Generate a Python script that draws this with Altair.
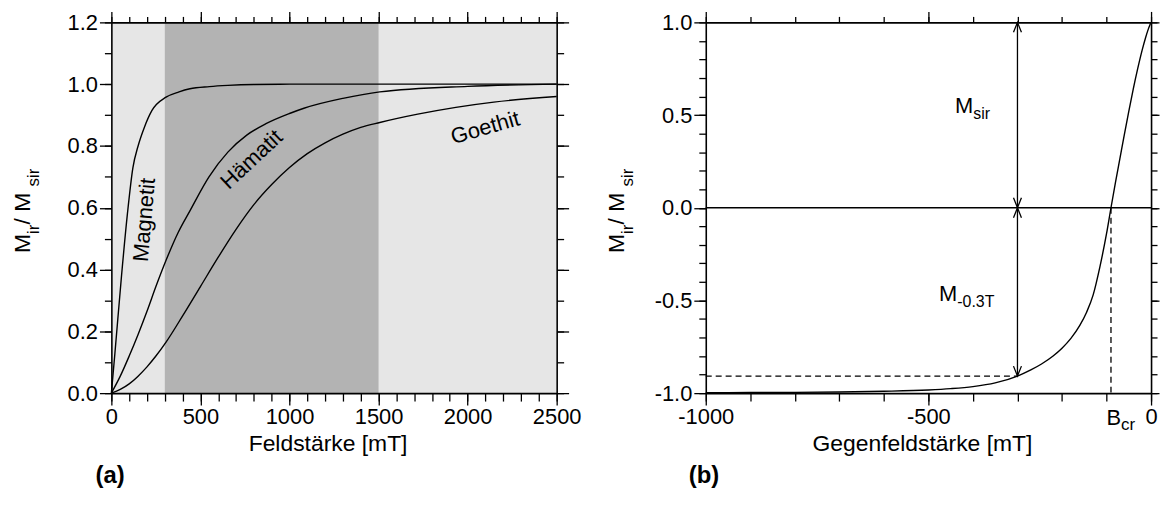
import altair as alt
import pandas as pd

FONT = "Liberation Sans"

# ---------------- panel (a) data ----------------
mag_x = [0, 20, 57, 90, 121, 150, 185, 228, 307, 380, 441, 550, 654, 800, 1000, 1500, 2000, 2500]
mag_y = [0, 0.13, 0.38, 0.58, 0.73, 0.80, 0.86, 0.915, 0.958, 0.975, 0.985, 0.992, 0.996, 0.999, 1.0, 1.0, 1.0, 1.0]
hem_x = [0, 50, 100, 150, 200, 250, 307, 375, 441, 548, 654, 760, 868, 1000, 1081, 1300, 1507, 2000, 2500]
hem_y = [0, 0.055, 0.12, 0.19, 0.265, 0.345, 0.43, 0.52, 0.59, 0.70, 0.78, 0.835, 0.872, 0.905, 0.922,
         0.954, 0.975, 0.993, 1.0]
goe_x = [0, 50, 100, 150, 200, 250, 307, 400, 500, 600, 700, 800, 900, 1000, 1100, 1200, 1300, 1400,
         1507, 1720, 1934, 2147, 2500]
goe_y = [0, 0.012, 0.03, 0.055, 0.085, 0.12, 0.165, 0.25, 0.345, 0.44, 0.53, 0.61, 0.675, 0.73, 0.775,
         0.81, 0.838, 0.86, 0.876, 0.903, 0.925, 0.942, 0.96]
curve_names = ["Magnetit", "Hämatit", "Goethit"]

shade_x0 = [0, 300]
shade_x1 = [2500, 1500]
shade_y0 = [0.0, 0.0]
shade_y1 = [1.2, 1.2]
shade_col = ["#e6e6e6", "#b3b3b3"]

lab_text = ["Magnetit", "Hämatit", "Goethit"]
lab_x = [186, 787, 2099]
lab_y = [0.561, 0.756, 0.859]
lab_ang = [275, 317, 344]

a_xmajor = [0, 500, 1000, 1500, 2000, 2500]
a_xminor = [v * 100 for v in range(26)]
a_ymajor = [0.0, 0.2, 0.4, 0.6, 0.8, 1.0, 1.2]
a_yminor = [round(v * 0.1, 1) for v in range(13)]

# ---------------- panel (b) data ----------------
b_x = [-1000, -900, -800, -700, -600, -500, -450, -400, -350, -300, -270, -246, -220, -200, -180,
       -160, -145, -130, -115, -100, -90, -80, -70, -60, -50, -40, -30, -20, -12, -6, -2, 0]
b_y = [-0.998, -0.997, -0.996, -0.994, -0.99, -0.983, -0.976, -0.965, -0.945, -0.908, -0.875, -0.843,
       -0.80, -0.758, -0.705, -0.635, -0.565, -0.47, -0.32, -0.14, 0.0, 0.135, 0.265, 0.395, 0.52,
       0.64, 0.75, 0.85, 0.92, 0.965, 0.99, 1.0]
m03_level = -0.908
bcr_x = -90
arrow_x = -300

b_xmajor = [-1000, -500, 0]
b_xminor = [-1000 + v * 100 for v in range(11)]
b_ymajor = [-1.0, -0.5, 0.0, 0.5, 1.0]
b_yminor = [round(-1.0 + v * 0.1, 1) for v in range(21)]

W, H = 448, 373
XTITLE_Y = 431
PANEL_Y = 463

# Arial / Liberation Sans advance widths (per 1000 em)
ADV = {"M": 833, "i": 222, "r": 333, " ": 278, "/": 278, "s": 500}


def tw(t, fs):
    return sum(ADV[c] for c in t) / 1000 * fs


def axis(orient, values, size, labels=False, domain=False, fmt=None, expr=None):
    kw = dict(orient=orient, values=values, tickSize=size, labels=labels, domain=domain,
              grid=False, title=None, ticks=True, tickColor="black", tickWidth=1.3,
              domainColor="black", domainWidth=1.6, zindex=3)
    if labels:
        kw.update(labelFont=FONT, labelFontSize=22, labelColor="black", labelPadding=2,
                  labelFlush=False, labelOverlap=False)
        if fmt:
            kw["format"] = fmt
        if expr:
            kw["labelExpr"] = expr
    return alt.Axis(**kw)


def ytitle_layer():
    pieces = [("M", 23, False), ("ir", 17, True), (" / M", 23, False), ("sir", 17, True)]
    rows, cum = [], 0.0
    for t, fs, sub in pieces:
        rows.append(dict(t=t, px=-82 + (9 if sub else 0), py=232 - cum, fs=fs))
        cum += tw(t, fs)
    return alt.Chart(pd.DataFrame(rows)).mark_text(
        align="left", baseline="alphabetic", angle=270, font=FONT, color="black"
    ).encode(
        text="t:N",
        x=alt.X("px:Q", scale=None, axis=None),
        y=alt.Y("py:Q", scale=None, axis=None),
        size=alt.Size("fs:Q", scale=None),
    )


def text_value(txt, px, py, fs, bold=False):
    return alt.Chart(pd.DataFrame({"t": [txt]})).mark_text(
        align="left" if bold else "center", baseline="alphabetic", font=FONT, fontSize=fs,
        fontWeight="bold" if bold else "normal", color="black"
    ).encode(text="t:N", x=alt.value(px), y=alt.value(py))


# ---------------- panel (a) ----------------
xs_a = alt.Scale(domain=[0, 2500], nice=False, zero=False)
ys_a = alt.Scale(domain=[0, 1.2], nice=False, zero=False)

shade_df = pd.DataFrame({"x0": shade_x0, "x1": shade_x1, "y0": shade_y0, "y1": shade_y1, "col": shade_col})
curves_df = pd.concat([
    pd.DataFrame({"x": mag_x, "y": mag_y, "name": curve_names[0]}),
    pd.DataFrame({"x": hem_x, "y": hem_y, "name": curve_names[1]}),
    pd.DataFrame({"x": goe_x, "y": goe_y, "name": curve_names[2]}),
])
labels_df = pd.DataFrame({"t": lab_text, "x": lab_x, "y": lab_y, "ang": lab_ang})

a_light = alt.Chart(shade_df.iloc[[0]]).mark_rect().encode(
    x=alt.X("x0:Q", scale=xs_a, axis=axis("bottom", a_xmajor, 12, labels=True, domain=True, fmt="d")),
    x2="x1:Q",
    y=alt.Y("y0:Q", scale=ys_a, axis=axis("left", a_ymajor, 12, labels=True, domain=True, fmt=".1f")),
    y2="y1:Q",
    color=alt.Color("col:N", scale=None),
)
a_dark = alt.Chart(shade_df.iloc[[1]]).mark_rect().encode(
    x=alt.X("x0:Q", scale=xs_a, axis=axis("bottom", a_xminor, 8)),
    x2="x1:Q",
    y=alt.Y("y0:Q", scale=ys_a, axis=axis("left", a_yminor, 7)),
    y2="y1:Q",
    color=alt.Color("col:N", scale=None),
)
a_lines = alt.Chart(curves_df).mark_line(color="black", strokeWidth=1.4, interpolate="monotone").encode(
    x=alt.X("x:Q", scale=xs_a, axis=axis("top", a_xmajor, 11, domain=True)),
    y=alt.Y("y:Q", scale=ys_a, axis=axis("right", a_ymajor, 12, domain=True)),
    detail="name:N",
)
a_labels = alt.Chart(labels_df).mark_text(font=FONT, fontSize=22, color="black",
                                          align="center", baseline="middle").encode(
    x=alt.X("x:Q", scale=xs_a, axis=axis("top", a_xminor, 6)),
    y=alt.Y("y:Q", scale=ys_a, axis=axis("right", a_yminor, 7)),
    text="t:N",
    angle=alt.Angle("ang:Q", scale=None),
)

left = alt.layer(
    a_light, a_dark, a_lines, a_labels,
    ytitle_layer(),
    text_value("Feldstärke [mT]", 218, XTITLE_Y, 23),
    text_value("(a)", -16, PANEL_Y, 24, bold=True),
).resolve_axis(x="independent", y="independent").properties(width=W, height=H)

# ---------------- panel (b) ----------------
xs_b = alt.Scale(domain=[-1000, 0], nice=False, zero=False)
ys_b = alt.Scale(domain=[-1.0, 1.0], nice=False, zero=False)
MINUS = "replace(datum.label, '\u2212', '-')"

curve_b = pd.DataFrame({"x": b_x, "y": b_y})
zero_df = pd.DataFrame({"x": [b_xmajor[0]], "x2": [b_xmajor[-1]], "y": [0.0]})
hdash_df = pd.DataFrame({"x": [b_xmajor[0]], "x2": [arrow_x], "y": [m03_level]})
vdash_df = pd.DataFrame({"x": [bcr_x], "y": [0.0], "y2": [-1.0]})
arrow_df = pd.DataFrame({"x": [arrow_x], "y": [m03_level], "y2": [1.0]})
heads_df = pd.DataFrame({"x": [arrow_x] * 4, "y": [1.0, 0.0, 0.0, m03_level], "ang": [0, 180, 0, 180]})

b_curve = alt.Chart(curve_b).mark_line(color="black", strokeWidth=1.4, interpolate="monotone").encode(
    x=alt.X("x:Q", scale=xs_b, axis=axis("bottom", b_xmajor, 12, labels=True, domain=True, fmt="d", expr=MINUS)),
    y=alt.Y("y:Q", scale=ys_b, axis=axis("left", b_ymajor, 12, labels=True, domain=True, fmt=".1f", expr=MINUS)),
)
b_zero = alt.Chart(zero_df).mark_rule(color="black", strokeWidth=1.4).encode(
    x=alt.X("x:Q", scale=xs_b, axis=axis("bottom", b_xminor, 8)),
    x2="x2:Q",
    y=alt.Y("y:Q", scale=ys_b, axis=axis("left", b_yminor, 7)),
)
b_hdash = alt.Chart(hdash_df).mark_rule(color="black", strokeWidth=1.3, strokeDash=[6, 4]).encode(
    x=alt.X("x:Q", scale=xs_b, axis=axis("top", b_xmajor, 11, domain=True)),
    x2="x2:Q",
    y=alt.Y("y:Q", scale=ys_b, axis=axis("right", b_ymajor, 8, domain=True)),
)
b_vdash = alt.Chart(vdash_df).mark_rule(color="black", strokeWidth=1.3, strokeDash=[6, 4]).encode(
    x=alt.X("x:Q", scale=xs_b, axis=axis("top", b_xminor, 6)),
    y=alt.Y("y:Q", scale=ys_b, axis=axis("right", b_yminor, 6)),
    y2="y2:Q",
)
b_arrow = alt.Chart(arrow_df).mark_rule(color="black", strokeWidth=1.3).encode(
    x=alt.X("x:Q", scale=xs_b, axis=None),
    y=alt.Y("y:Q", scale=ys_b, axis=None),
    y2="y2:Q",
)
b_heads = alt.Chart(heads_df).mark_point(
    shape="M-0.8,2L0,0L0.8,2", filled=False, size=100, color="black", strokeWidth=1.3, opacity=1
).encode(
    x=alt.X("x:Q", scale=xs_b, axis=None),
    y=alt.Y("y:Q", scale=ys_b, axis=None),
    angle=alt.Angle("ang:Q", scale=None),
)


def ann(main, sub, x, y, dy_main=0, fs=22, sfs=16, sdrop=6):
    base = pd.DataFrame({"x": [x], "y": [y]})
    m = alt.Chart(base).mark_text(text=main, align="left", baseline="alphabetic", font=FONT,
                                  fontSize=fs, color="black", dy=dy_main).encode(
        x=alt.X("x:Q", scale=xs_b, axis=None), y=alt.Y("y:Q", scale=ys_b, axis=None))
    s = alt.Chart(base).mark_text(text=sub, align="left", baseline="alphabetic", font=FONT,
                                  fontSize=sfs, color="black", dx=0.833 * fs if main == "M" else 0.667 * fs,
                                  dy=dy_main + sdrop).encode(
        x=alt.X("x:Q", scale=xs_b, axis=None), y=alt.Y("y:Q", scale=ys_b, axis=None))
    return [m, s]


right = alt.layer(
    b_curve, b_zero, b_hdash, b_vdash, b_arrow, b_heads,
    *ann("M", "sir", -440, 0.512),
    *ann("M", "-0.3T", -476, -0.503),
    *ann("B", "cr", -100, -1.0, dy_main=32, sfs=17, sdrop=5),
    ytitle_layer(),
    text_value("Gegenfeldstärke [mT]", 218, XTITLE_Y, 23),
    text_value("(b)", -17, PANEL_Y, 24, bold=True),
).resolve_axis(x="independent", y="independent").properties(width=W, height=H)

chart = alt.hconcat(left, right, spacing=150, bounds="flush").properties(
    padding={"left": 4, "top": 1, "right": 0, "bottom": 0}
).configure_view(stroke=None)

chart.save("out.html", embed_options={"renderer": "svg", "actions": False})
